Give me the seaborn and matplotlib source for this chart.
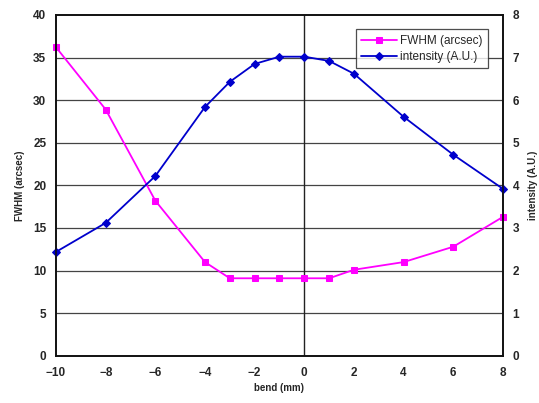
import pandas as pd
import matplotlib
matplotlib.use('Agg')
import matplotlib.pyplot as plt
import seaborn as sns

# data
bend_mm = [-10, -8, -6, -4, -3, -2, -1, 0, 1, 2, 4, 6, 8]
fwhm_arcsec = [36.2, 28.9, 18.2, 11.0, 9.1, 9.1, 9.1, 9.1, 9.1, 10.1, 11.0, 12.8, 16.3]
intensity_au = [2.44, 3.12, 4.22, 5.84, 6.43, 6.85, 7.02, 7.02, 6.92, 6.62, 5.61, 4.72, 3.92]

df = pd.DataFrame({'bend': bend_mm, 'fwhm': fwhm_arcsec, 'intensity': intensity_au})

sns.set_style("white")
plt.rcParams['font.family'] = ['Liberation Sans', 'DejaVu Sans']

fig = plt.figure(figsize=(5.39, 4.03), dpi=100)
ax = fig.add_axes([0.104, 0.117, 0.829, 0.846])
ax2 = ax.twinx()

# horizontal grid + zero line
for yv in [5, 10, 15, 20, 25, 30, 35]:
    ax.axhline(yv, color='#444444', lw=0.9, zorder=0)
ax.axvline(0, color='#222222', lw=1.0, zorder=0)

sns.lineplot(data=df, x='bend', y='fwhm', ax=ax, color='#ff00ff', marker='s',
             markersize=5, markeredgecolor='#ff00ff', lw=1.3, label='FWHM (arcsec)',
             legend=False, clip_on=False)
sns.lineplot(data=df, x='bend', y='intensity', ax=ax2, color='#0000cc', marker='D',
             markersize=4.5, markeredgecolor='#0000cc', lw=1.3, label='intensity (A.U.)',
             legend=False, clip_on=False)

ax.set_xlim(-10, 8)
ax.set_ylim(0, 40)
ax2.set_ylim(0, 8)
ax.set_xticks([-10, -8, -6, -4, -2, 0, 2, 4, 6, 8])
ax.set_yticks(range(0, 41, 5))
ax2.set_yticks(range(0, 9))

tick_font = dict(fontsize=8.5, fontweight='bold')
ax.set_xticklabels(['\u221210', '\u22128', '\u22126', '\u22124', '\u22122', '0', '2', '4', '6', '8'], **tick_font)
ax.set_yticklabels([str(v) for v in range(0, 41, 5)], **tick_font)
ax2.set_yticklabels([str(v) for v in range(0, 9)], **tick_font)

ax.tick_params(axis='x', direction='in', length=3, pad=8)
ax.tick_params(axis='y', length=0, pad=7)
ax2.tick_params(axis='y', length=0, pad=7)

ax.set_xlabel('bend (mm)', fontsize=7, fontweight='bold', labelpad=3)
ax.set_ylabel('FWHM (arcsec)', fontsize=7, fontweight='bold', labelpad=6)
ax2.set_ylabel('intensity (A.U.)', fontsize=7, fontweight='bold', labelpad=6)

for a in (ax, ax2):
    for s in a.spines.values():
        s.set_color('#111111')
        s.set_linewidth(1.2)

h1, l1 = ax.get_legend_handles_labels()
h2, l2 = ax2.get_legend_handles_labels()
leg = ax2.legend(h1 + h2, l1 + l2, loc='upper right', bbox_to_anchor=(0.98, 0.975),
                 fontsize=8.5, frameon=True, fancybox=False, edgecolor='#222222',
                 handlelength=3.0, handletextpad=0.3, borderpad=0.45, labelspacing=0.35)
leg.get_frame().set_linewidth(0.9)

fig.savefig('out.png', dpi=100)
